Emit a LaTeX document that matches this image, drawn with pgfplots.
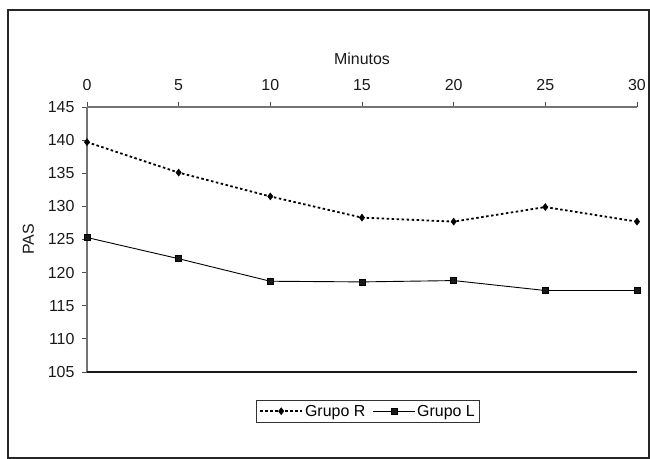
\documentclass[border=0pt]{standalone}
\usepackage{fontspec}
\setmainfont{Liberation Sans}
\usepackage{pgfplots}
\pgfplotsset{compat=1.18}
\begin{document}
\begin{tikzpicture}
\path[use as bounding box] (-87bp,-87bp) rectangle (563bp,372bp);
\draw[line width=1.2bp, black!85] (-79bp,-86bp) rectangle (562bp,362bp);
\begin{axis}[at={(0bp,0bp)}, anchor=south west, scale only axis,
  width=550bp, height=265bp,
  xmin=0, xmax=30, ymin=105, ymax=145,
  xtick={0,5,...,30}, ytick={105,110,...,145},
  axis x line*=top, axis y line*=left,
  x axis line style={black!55, line width=1.2bp, -},
  y axis line style={black!55, line width=1.2bp, -},
  tick align=outside, major tick length=5bp,
  every tick/.style={black!70, line width=0.8bp},
  /pgf/number format/assume math mode=true,
  tick label style={font=\fontsize{16}{19}\selectfont, text=black!90},
  xticklabel style={yshift=8bp},
  yticklabel style={xshift=-4bp},
  label style={font=\fontsize{16}{19}\selectfont, text=black!90},
  xlabel={Minutos}, ylabel={PAS},
  xlabel style={yshift=8bp},
  ylabel style={yshift=7bp},
  clip=false,
  legend columns=2,
  legend style={at={(0.511,-0.148)}, anchor=center, draw=black!80, line width=0.8bp,
    font=\fontsize{16}{19}\selectfont, inner xsep=3bp, inner ysep=2.5bp,
    /tikz/every even column/.append style={column sep=5bp}},
  legend image code/.code={\draw[mark repeat=2, mark phase=2, #1] plot coordinates {(0bp,0bp) (21bp,0bp) (42bp,0bp)};},
]
\draw[black!90, line width=1.4bp] (axis cs:0,105) -- (axis cs:30,105);
\addplot[black, line width=1.8bp, dash pattern=on 2.5bp off 2.5bp, mark=diamond*, mark size=3.5bp, mark options={solid, fill=black, line width=0.5bp}]
  coordinates {(0,139.7) (5,135.1) (10,131.5) (15,128.3) (20,127.7) (25,129.9) (30,127.7)};
\addlegendentry{Grupo R}
\addplot[black, line width=0.9bp, mark=square*, mark size=3bp, mark options={solid, fill=black!90, line width=0.5bp}]
  coordinates {(0,125.3) (5,122.1) (10,118.7) (15,118.6) (20,118.8) (25,117.3) (30,117.3)};
\addlegendentry{Grupo L}
\end{axis}
\end{tikzpicture}
\end{document}
